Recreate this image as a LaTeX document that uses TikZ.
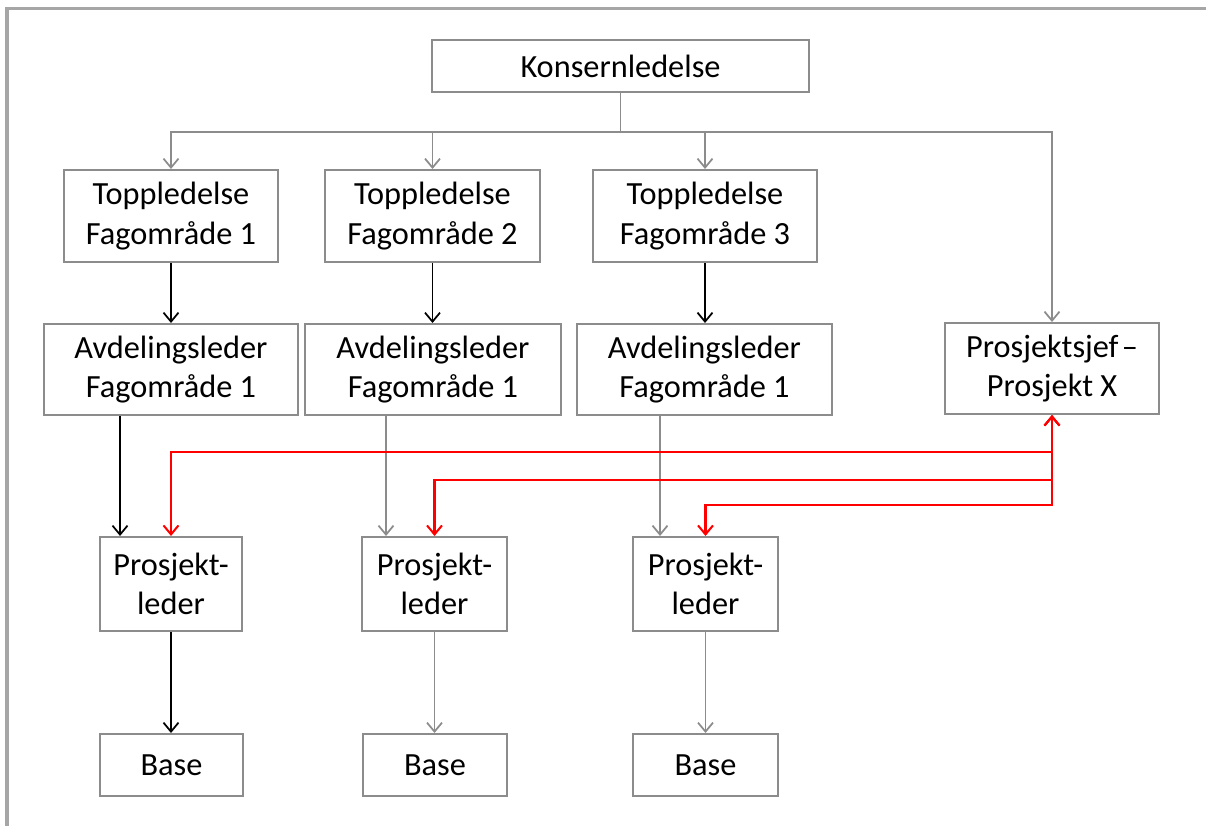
\documentclass[tikz,border=0pt]{standalone}
\usepackage{fontspec}
\setmainfont{Carlito}
\usetikzlibrary{arrows.meta}

\definecolor{framegray}{RGB}{166,166,166}
\definecolor{linegray}{RGB}{140,140,140}
\definecolor{linkred}{RGB}{255,0,0}

\tikzset{
  orgbox/.style={draw=linegray, line width=1.15pt, text=black, align=center,
    inner sep=0pt, font=\fontsize{18.4}{22.5}\selectfont},
  greyarrow/.style={->, draw=linegray, line width=1pt},
  blackarrow/.style={->, draw=black, line width=1pt},
  redarrow/.style={draw=linkred, line width=1.15pt},
}

\begin{document}
\begin{tikzpicture}[>={Straight Barb[length=1.8mm,width=3mm]}]

\useasboundingbox (0,0) rectangle (24.12,-16.5);
\draw[framegray, line width=1.8pt] (0.14,-16.6) -- (0.14,-0.17) -- (24.2,-0.17);

% top level
\node[orgbox, minimum width=7.54cm, minimum height=1.04cm] (kons) at (12.41,-1.32) {Konsernledelse};

\node[orgbox, minimum width=4.28cm, minimum height=1.84cm] (top1) at (3.42,-4.32) {Toppledelse\\Fagområde 1};
\node[orgbox, minimum width=4.30cm, minimum height=1.84cm] (top2) at (8.65,-4.32) {Toppledelse\\Fagområde 2};
\node[orgbox, minimum width=4.48cm, minimum height=1.84cm] (top3) at (14.10,-4.32) {Toppledelse\\Fagområde 3};

\node[orgbox, minimum width=5.08cm, minimum height=1.82cm] (avd1) at (3.42,-7.39) {Avdelingsleder\\Fagområde 1};
\node[orgbox, minimum width=5.12cm, minimum height=1.82cm] (avd2) at (8.66,-7.39) {Avdelingsleder\\Fagområde 1};
\node[orgbox, minimum width=5.10cm, minimum height=1.82cm] (avd3) at (14.09,-7.39) {Avdelingsleder\\Fagområde 1};
\node[orgbox, minimum width=4.28cm, minimum height=1.82cm] (pros) at (21.04,-7.37) {Prosjektsjef\hspace{0.1em}--\\Prosjekt X};

\node[orgbox, minimum width=2.84cm, minimum height=1.88cm] (pl1) at (3.42,-11.68) {Prosjekt-\\leder};
\node[orgbox, minimum width=2.90cm, minimum height=1.88cm] (pl2) at (8.69,-11.68) {Prosjekt-\\leder};
\node[orgbox, minimum width=2.90cm, minimum height=1.88cm] (pl3) at (14.11,-11.68) {Prosjekt-\\leder};

\node[orgbox, minimum width=2.86cm, minimum height=1.24cm] (b1) at (3.43,-15.30) {Base};
\node[orgbox, minimum width=2.88cm, minimum height=1.24cm] (b2) at (8.70,-15.30) {Base};
\node[orgbox, minimum width=2.90cm, minimum height=1.24cm] (b3) at (14.11,-15.30) {Base};

% line management
\coordinate (hub) at ([yshift=-0.78cm]kons.south);
\foreach \n in {top1,top2,top3,pros}
  \draw[greyarrow] (kons.south) -- (hub) -| (\n.north);

\foreach \i in {1,2,3}
  \draw[blackarrow] (top\i.south) -- (top\i.south |- avd\i.north);

\draw[blackarrow] ([xshift=-1.02cm]pl1.north |- avd1.south) -- ([xshift=-1.02cm]pl1.north);
\draw[greyarrow] ([xshift=-0.97cm]pl2.north |- avd2.south) -- ([xshift=-0.97cm]pl2.north);
\draw[greyarrow] ([xshift=-0.91cm]pl3.north |- avd3.south) -- ([xshift=-0.91cm]pl3.north);

\draw[blackarrow] (pl1.south) -- (pl1.south |- b1.north);
\draw[greyarrow] (pl2.south) -- (pl2.south |- b2.north);
\draw[greyarrow] (pl3.south) -- (pl3.south |- b3.north);

% project lines
\draw[redarrow, <->] (pl1.north) |- ([yshift=-0.74cm]pros.south) -- (pros.south);
\draw[redarrow, <->] (pl2.north) |- ([yshift=-1.30cm]pros.south) -- (pros.south);
\draw[redarrow, <->] (pl3.north) |- ([yshift=-1.80cm]pros.south) -- (pros.south);

\end{tikzpicture}
\end{document}
